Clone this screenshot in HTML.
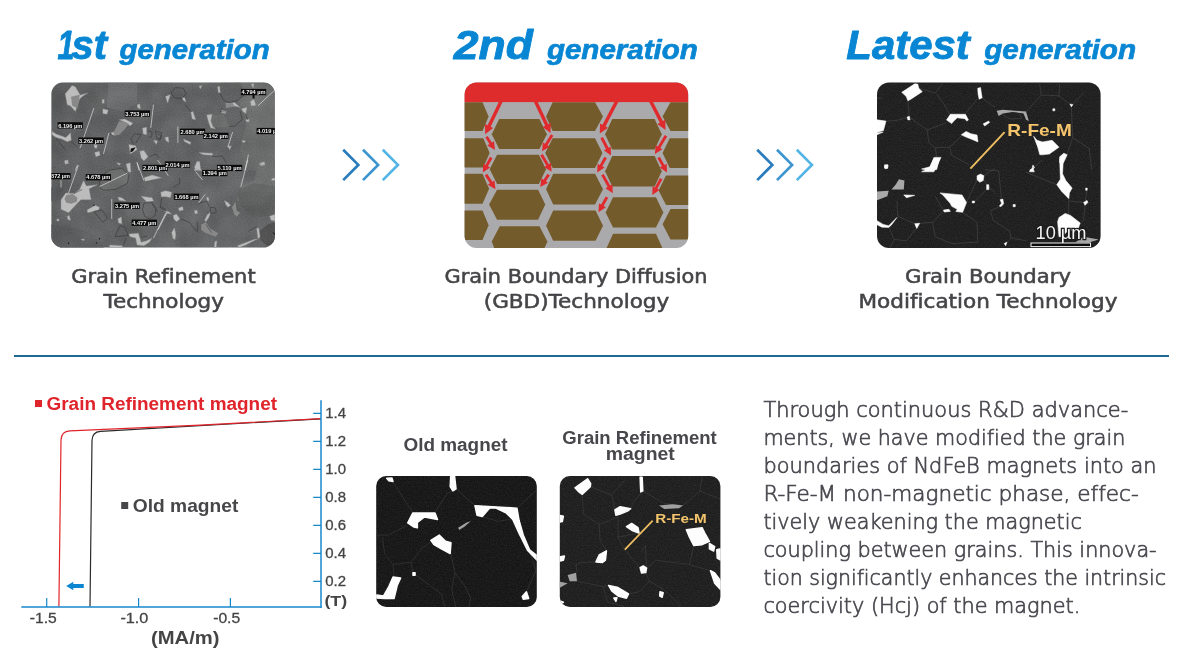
<!DOCTYPE html>
<html lang="en">
<head>
<meta charset="utf-8">
<title>Grain boundary technology generations</title>
<style>
html,body{margin:0;padding:0;background:#fff;}
body{width:1187px;height:657px;overflow:hidden;position:relative;font-family:"Liberation Sans","DejaVu Sans",sans-serif;}
svg{position:absolute;left:0;top:0;display:block}
.h{font-family:"Liberation Sans",sans-serif;font-weight:700;font-style:italic;fill:#0886d3}
.cap{font-family:"DejaVu Sans","Liberation Sans",sans-serif;font-size:19.6px;fill:#454548;stroke:#454548;stroke-width:.55px;text-anchor:middle;font-variant-ligatures:none}
.p{font-family:"DejaVu Sans","Liberation Sans",sans-serif;font-weight:200;font-size:20.4px;fill:#47474e;stroke:#47474e;stroke-width:.65px;font-variant-ligatures:none}
.cb{font-family:"Liberation Sans",sans-serif;font-weight:700}
.ax{font-family:"Liberation Sans",sans-serif;font-size:15.4px;fill:#444;stroke:#444;stroke-width:.3px}
</style>
</head>
<body>
<svg width="1187" height="657" viewBox="0 0 1187 657">
<defs>
<clipPath id="c1"><rect x="51.4" y="82.6" width="223.4" height="165" rx="11.4"/></clipPath>
<linearGradient id="g1" x1="0" y1="0" x2="1" y2="0.6"><stop offset="0" stop-color="#565758"/><stop offset=".5" stop-color="#5d5e5f"/><stop offset="1" stop-color="#606162"/></linearGradient>
<clipPath id="c2"><rect x="464.6" y="82.5" width="223.6" height="165.5" rx="12"/></clipPath>
<clipPath id="c3"><rect x="877" y="82.5" width="223.6" height="165.5" rx="12"/></clipPath>
<clipPath id="c4"><rect x="376.2" y="476" width="160.6" height="131" rx="10"/></clipPath>
<clipPath id="c5"><rect x="559.8" y="476" width="160.6" height="131" rx="10"/></clipPath>
<filter id="nzd" x="0" y="0" width="100%" height="100%" color-interpolation-filters="sRGB"><feTurbulence type="fractalNoise" baseFrequency="0.75" numOctaves="2" seed="7"/><feColorMatrix type="matrix" values="0 0 0 0 1  0 0 0 0 1  0 0 0 0 1  0.13 0 0 0 -0.035"/></filter>
<filter id="nzg" x="0" y="0" width="100%" height="100%" color-interpolation-filters="sRGB"><feTurbulence type="fractalNoise" baseFrequency="0.045" numOctaves="2" seed="11"/><feColorMatrix type="matrix" values="1.6 0 0 0 -0.3  1.6 0 0 0 -0.3  1.6 0 0 0 -0.3  0 0 0 0 0.07"/></filter>
<filter id="nzf" x="0" y="0" width="100%" height="100%" color-interpolation-filters="sRGB"><feTurbulence type="fractalNoise" baseFrequency="0.8" numOctaves="1" seed="5"/><feColorMatrix type="matrix" values="1 0 0 0 0  1 0 0 0 0  1 0 0 0 0  0 0 0 0 0.10"/></filter>
</defs>
<g class="h" stroke="#0886d3" stroke-linejoin="round">
<text y="58.8" font-size="41.5" stroke-width=".9"><tspan x="57.6" textLength="17" lengthAdjust="spacingAndGlyphs">1</tspan><tspan x="71.6" textLength="35.5" lengthAdjust="spacingAndGlyphs">st</tspan></text>
<text x="119.6" y="58.8" font-size="27.5" stroke-width=".7" textLength="150" lengthAdjust="spacingAndGlyphs">generation</text>
<text x="453.8" y="58.8" font-size="41.5" stroke-width=".9" textLength="79" lengthAdjust="spacingAndGlyphs">2nd</text>
<text x="546.9" y="58.8" font-size="27.5" stroke-width=".7" textLength="151" lengthAdjust="spacingAndGlyphs">generation</text>
<text x="846.3" y="58.8" font-size="41.5" stroke-width=".9" textLength="123.5" lengthAdjust="spacingAndGlyphs">Latest</text>
<text x="984.2" y="58.8" font-size="27.5" stroke-width=".7" textLength="152" lengthAdjust="spacingAndGlyphs">generation</text>
</g>
<g fill="none" stroke-width="2.7" stroke-linecap="butt" stroke-linejoin="miter"><polyline points="343.2,149.7 358.3,164.9 343.2,180.1" stroke="#2a7cbc"/><polyline points="363,149.7 378.1,164.9 363,180.1" stroke="#3c95cf"/><polyline points="382.8,149.7 397.9,164.9 382.8,180.1" stroke="#53b5e5"/></g>
<g fill="none" stroke-width="2.7" stroke-linecap="butt" stroke-linejoin="miter"><polyline points="757.2,149.7 772.3,164.9 757.2,180.1" stroke="#2a7cbc"/><polyline points="777,149.7 792.1,164.9 777,180.1" stroke="#3c95cf"/><polyline points="796.8,149.7 811.9,164.9 796.8,180.1" stroke="#53b5e5"/></g>
<g clip-path="url(#c1)">
<rect x="50" y="81" width="226" height="168" fill="url(#g1)"/>
<g transform="translate(48 80) scale(0.1370)">
<polygon points="290,95 420,130 400,210 330,210 300,150" fill="#595a5a"/>
<polygon points="440,20 650,20 650,170 560,230 430,200" fill="#68696a"/>
</g>
<g transform="translate(158 80) scale(0.1370)">
<polygon points="560,20 850,20 850,660 640,660 600,500 650,300 600,200" fill="#686969"/>
<polygon points="450,95 480,150 520,165 580,150 640,100 600,20 460,20" fill="#5a5b5c"/>
<polygon points="360,260 480,250 520,340 400,350" fill="#6b6c6c"/>
</g>
<g transform="translate(48 160) scale(0.1370)">
<polygon points="375,190 385,120 450,75 540,60 590,110 580,170 490,215 400,220" fill="#696a6a"/>
<polygon points="20,200 120,210 100,290 20,300" fill="#57585a"/>
<polygon points="540,380 700,440 690,560 590,550 540,460" fill="#5a5b5b"/>
<polygon points="20,470 300,520 420,650 20,650" fill="#58595a"/>
</g>
<g transform="translate(158 160) scale(0.1370)">
<polygon points="740,520 800,470 860,450 860,600 800,625 750,590" fill="#454545"/>
<polygon points="600,195 700,150 740,0 860,0 860,300 700,330 570,300" fill="#6a6b6b"/>
<polygon points="575,215 700,170 860,190 860,400 700,420 600,330" fill="#5a5b5b"/>
</g>
<rect x="50" y="81" width="226" height="168" filter="url(#nzg)"/>
<rect x="50" y="81" width="226" height="168" filter="url(#nzf)"/>
<g transform="translate(48 80) scale(0.1370)">
<g fill="#bcbcbc" stroke="#8e8e8e" stroke-width="3" stroke-linejoin="round">
<polygon points="125,100 160,60 175,40 200,50 235,110 290,95 250,120 230,140 200,230 165,190 140,180"/>
<polygon points="400,210 440,220 430,250 400,245"/>
<polygon points="395,145 410,140 410,170 395,170"/>
<polygon points="520,290 560,285 620,315 600,335 565,310"/>
<polygon points="650,180 670,175 675,210 655,205"/>
<polygon points="690,350 720,345 720,400 695,395"/>
<polygon points="30,375 60,395 130,420 165,385 170,440 140,450 100,430 60,420 30,400"/>
<polygon points="335,470 360,475 355,500 340,495"/>
<polygon points="340,530 375,520 380,550 350,560"/>
<polygon points="590,470 640,480 650,510 600,540"/>
<polygon points="670,520 700,515 730,560 700,590 680,570"/>
<polygon points="770,440 800,445 790,470"/>
<polygon points="120,590 140,585 145,610 125,615"/>
<polygon points="460,385 480,380 490,405 470,400"/>
</g>
<g fill="#888">
<polygon points="478,385 520,300 565,310 590,320 560,360 520,400 490,405"/>
<polygon points="168,122 232,108 226,150 214,208 176,186"/>
</g>
<g fill="#111">
<polygon points="605,500 640,490 620,520 600,530"/>
</g>
<g fill="none" stroke="#2c2c2c" stroke-width="3.5" stroke-linejoin="round">
<polyline points="625,470 605,430 630,395 680,395 660,430 640,460"/>
<polyline points="785,375 830,385 825,425 795,430 785,375"/>
<polyline points="730,370 760,380 755,420 735,415"/>
<polyline points="60,425 110,490 130,515"/>
<polyline points="170,450 215,490"/>
<polyline points="740,560 790,540 810,570"/>
</g>
<g fill="none" stroke="#ececec" stroke-width="4.5">
<polyline points="335,205 235,495"/>
<polyline points="770,180 750,350"/>
<polyline points="445,385 405,540"/>
<polyline points="215,620 200,660"/>
<polyline points="650,600 665,660"/>
</g>
</g>
<g transform="translate(158 80) scale(0.1370)">
<g fill="#bcbcbc" stroke="#8e8e8e" stroke-width="3" stroke-linejoin="round">
<polygon points="55,120 90,105 70,170"/>
<polygon points="175,125 195,130 205,160 185,150"/>
<polygon points="300,45 320,40 310,65"/>
<polygon points="435,50 450,45 455,95 440,90"/>
<polygon points="240,235 255,230 275,290 250,285"/>
<polygon points="355,255 395,250 385,300 400,340 420,355 385,350 370,310"/>
<polygon points="495,170 560,165 600,200 560,190 500,200"/>
<polygon points="610,210 650,200 640,245 620,230"/>
<polygon points="675,155 700,140 715,185 680,190"/>
<polygon points="680,30 700,25 695,60"/>
<polygon points="640,290 665,285 665,305 645,305"/>
<polygon points="50,420 75,415 80,455 60,445"/>
<polygon points="510,485 535,480 525,510"/>
<polygon points="610,440 640,445 625,460"/>
<polygon points="300,530 400,535 395,550 330,545"/>
<polygon points="270,640 300,590 310,660 265,660"/>
<polygon points="460,220 500,230 495,245 465,240"/>
<polygon points="185,430 240,455 235,470 195,450"/>
<polygon points="740,610 775,600 780,620 750,625"/>
</g>
<g fill="#888">
<polygon points="495,170 545,168 560,195 500,200"/>
</g>
<g fill="#111">
<polygon points="690,105 705,105 705,135 690,135"/>
</g>
<g fill="none" stroke="#2c2c2c" stroke-width="3.5" stroke-linejoin="round">
<polyline points="95,95 125,55 185,60 205,100 175,135 120,130 95,95"/>
<polyline points="450,95 480,150 520,165 580,150 640,100"/>
<polyline points="470,200 455,230 500,235"/>
<polyline points="600,230 615,290 560,335 520,340"/>
<polyline points="0,395 20,405 15,440 0,435"/>
<polyline points="395,560 470,555 500,610"/>
<polyline points="640,250 655,290"/>
<polyline points="200,180 240,230"/>
</g>
<g fill="none" stroke="#ececec" stroke-width="4.5">
<polyline points="845,80 730,188"/>
<polyline points="145,340 145,460"/>
<polyline points="545,380 510,490"/>
<polyline points="660,545 635,660"/>
</g>
</g>
<g transform="translate(48 160) scale(0.1370)">
<g fill="#bcbcbc" stroke="#8e8e8e" stroke-width="3" stroke-linejoin="round">
<polygon points="95,290 130,240 190,245 230,215 260,150 280,190 360,180 300,210 315,290 240,290 210,320 150,385 95,360"/>
<polygon points="285,365 345,330 375,345 370,365 290,385"/>
<polygon points="570,30 600,20 605,90 585,85"/>
<polygon points="700,130 760,110 830,130 710,155"/>
<polygon points="510,270 540,275 570,300 520,295"/>
<polygon points="680,265 760,275 770,300 720,305 700,285"/>
<polygon points="830,235 880,230 880,270 835,265"/>
<polygon points="510,430 535,415 540,465 515,460"/>
<polygon points="590,540 660,535 680,600 720,590 760,570 740,600 700,625 650,620 640,570 600,560"/>
<polygon points="140,410 155,405 165,440 145,435"/>
<polygon points="125,5 145,0 150,30"/>
<polygon points="65,430 80,430 80,445 65,445"/>
<polygon points="500,20 530,25 520,40"/>
<polygon points="240,580 265,575 262,590"/>
<polygon points="450,620 540,625 545,640 450,640"/>
</g>
<g fill="#888">
<polygon points="120,285 135,255 180,248 215,275 210,305 170,320 135,312"/>
</g>
<g fill="#111">
<circle cx="150" cy="608" r="5"/><circle cx="355" cy="605" r="5"/><circle cx="375" cy="575" r="5"/><circle cx="335" cy="330" r="5"/></g>
<g fill="none" stroke="#2c2c2c" stroke-width="3.5" stroke-linejoin="round">
<polyline points="375,190 385,120 450,75 540,60 590,110 580,170 490,215 400,220 375,190"/>
<polyline points="690,360 700,315 760,310 790,350 780,410 740,430 705,410 690,360"/>
<polyline points="335,375 395,365 435,425 400,455 335,375"/>
<polyline points="490,560 525,480 560,490 585,550 490,560"/>
<polyline points="570,570 550,620"/>
<polyline points="680,565 725,555"/>
<polyline points="190,245 250,215"/>
<polyline points="830,280 820,340 860,360"/>
<polyline points="760,320 800,380"/>
</g>
<g fill="none" stroke="#ececec" stroke-width="4.5">
<polyline points="222,38 150,240"/>
<polyline points="580,95 375,195"/>
<polyline points="650,20 700,150"/>
<polyline points="465,285 465,430"/>
<polyline points="860,385 770,570"/>
<polyline points="95,145 95,200"/>
<polyline points="800,0 850,70"/>
</g>
</g>
<g transform="translate(158 160) scale(0.1370)">
<g fill="#bcbcbc" stroke="#8e8e8e" stroke-width="3" stroke-linejoin="round">
<polygon points="265,55 285,10 305,15 310,65 325,80 290,70"/>
<polygon points="20,235 55,225 100,235 90,275 55,265 25,270"/>
<polygon points="485,295 510,310 530,330 510,345 495,325"/>
<polygon points="340,440 360,400 385,380 370,420 350,450"/>
<polygon points="110,405 135,395 160,430 135,450 115,430"/>
<polygon points="150,350 180,340 185,365 155,372"/>
<polygon points="45,370 75,375 100,395 70,390"/>
<polygon points="100,530 120,495 130,540 125,580 110,575"/>
<polygon points="580,625 700,580 730,575 640,620 590,638"/>
<polygon points="720,500 735,495 745,560 730,575"/>
<polygon points="815,410 855,395 855,445 825,440"/>
<polygon points="830,135 855,130 855,150 830,150"/>
<polygon points="750,20 775,15 780,35 755,32"/>
<polygon points="415,595 430,590 425,640 410,640"/>
<polygon points="355,270 370,275 372,300 358,295"/>
<polygon points="265,370 285,365 290,390 270,392"/>
</g>
<g fill="#888">
<polygon points="540,345 565,305 575,370 600,385 575,415 555,395"/>
<polygon points="315,470 350,455 380,500 440,535 420,560 340,530 315,510"/>
</g>
<g fill="#111">
<polygon points="835,525 855,535 855,550"/>
</g>
<g fill="none" stroke="#2c2c2c" stroke-width="3.5" stroke-linejoin="round">
<polyline points="10,340 60,375"/>
<polyline points="165,430 230,455 270,510 290,520 285,450"/>
<polyline points="380,345 420,350 425,385 385,390 380,345"/>
<polyline points="290,320 355,300 375,340"/>
<polyline points="110,200 160,170 155,130"/>
<polyline points="350,470 390,530"/>
<polyline points="660,520 720,485"/>
</g>
<g fill="none" stroke="#ececec" stroke-width="4.5">
<polyline points="655,0 605,195"/>
<polyline points="275,85 325,145"/>
<polyline points="345,250 295,315"/>
<polyline points="45,70 75,115"/>
<polyline points="65,385 0,510"/>
</g>
</g>
<g font-family="'Liberation Sans',sans-serif" font-size="6.2" font-weight="700" fill="#f2f2f2">
<rect x="124.7" y="110.4" width="25.3" height="6.3" fill="#0b0b0b"/><text x="125.3" y="115.7" textLength="24.1" lengthAdjust="spacingAndGlyphs">3.753 µm</text>
<rect x="57.6" y="122.2" width="25.3" height="6.3" fill="#0b0b0b"/><text x="58.2" y="127.5" textLength="24.1" lengthAdjust="spacingAndGlyphs">6.196 µm</text>
<rect x="78.4" y="137.5" width="25.3" height="6.3" fill="#0b0b0b"/><text x="79" y="142.8" textLength="24.1" lengthAdjust="spacingAndGlyphs">3.262 µm</text>
<rect x="240.9" y="88.9" width="25.3" height="6.3" fill="#0b0b0b"/><text x="241.5" y="94.2" textLength="24.1" lengthAdjust="spacingAndGlyphs">4.794 µm</text>
<rect x="179.9" y="128.6" width="25.3" height="6.3" fill="#0b0b0b"/><text x="180.5" y="133.9" textLength="24.1" lengthAdjust="spacingAndGlyphs">2.680 µm</text>
<rect x="203.2" y="132.7" width="25.3" height="6.3" fill="#0b0b0b"/><text x="203.8" y="138" textLength="24.1" lengthAdjust="spacingAndGlyphs">2.142 µm</text>
<rect x="256.6" y="127.9" width="25.3" height="6.3" fill="#0b0b0b"/><text x="257.2" y="133.2" textLength="24.1" lengthAdjust="spacingAndGlyphs">4.019 µm</text>
<rect x="50.5" y="173" width="20.1" height="6.3" fill="#0b0b0b"/><text x="51.1" y="178.3" textLength="18.9" lengthAdjust="spacingAndGlyphs">872 µm</text>
<rect x="85.7" y="174.1" width="25.3" height="6.3" fill="#0b0b0b"/><text x="86.3" y="179.4" textLength="24.1" lengthAdjust="spacingAndGlyphs">4.678 µm</text>
<rect x="142.5" y="164.8" width="25.3" height="6.3" fill="#0b0b0b"/><text x="143.1" y="170.1" textLength="24.1" lengthAdjust="spacingAndGlyphs">2.801 µm</text>
<rect x="114.4" y="202.5" width="25.3" height="6.3" fill="#0b0b0b"/><text x="115" y="207.8" textLength="24.1" lengthAdjust="spacingAndGlyphs">3.275 µm</text>
<rect x="131.6" y="219.6" width="25.3" height="6.3" fill="#0b0b0b"/><text x="132.2" y="224.9" textLength="24.1" lengthAdjust="spacingAndGlyphs">4.477 µm</text>
<rect x="164.8" y="161.4" width="25.3" height="6.3" fill="#0b0b0b"/><text x="165.4" y="166.7" textLength="24.1" lengthAdjust="spacingAndGlyphs">2.014 µm</text>
<rect x="216.9" y="164.8" width="25.3" height="6.3" fill="#0b0b0b"/><text x="217.5" y="170.1" textLength="24.1" lengthAdjust="spacingAndGlyphs">5.110 µm</text>
<rect x="202.1" y="169.9" width="25.3" height="6.3" fill="#0b0b0b"/><text x="202.7" y="175.2" textLength="24.1" lengthAdjust="spacingAndGlyphs">1.394 µm</text>
<rect x="173.8" y="193.6" width="25.3" height="6.3" fill="#0b0b0b"/><text x="174.4" y="198.9" textLength="24.1" lengthAdjust="spacingAndGlyphs">1.668 µm</text>
</g>
</g>
<g clip-path="url(#c2)"><g transform="translate(460 78) scale(0.2648)">
<rect x="0" y="0" width="880" height="660" fill="#aaaaac"/>
<g fill="#745b2b">
<polygon points="10,92 85,92 108,145 85,200 10,200"/>
<polygon points="10,228 88,228 112,283 88,338 10,338"/>
<polygon points="10,362 85,362 110,418 85,475 10,475"/>
<polygon points="10,500 85,500 108,556 85,612 10,612"/>
<polygon points="120,212 148,155 300,155 328,212 300,268 148,268"/>
<polygon points="112,345 140,290 298,290 325,345 298,400 140,400"/>
<polygon points="110,478 140,422 295,422 322,478 295,535 140,535"/>
<polygon points="120,617 150,560 300,560 330,617 316,650 132,650"/>
<polygon points="325,145 350,92 510,92 540,145 510,200 350,200"/>
<polygon points="322,283 350,228 510,228 538,283 510,340 350,340"/>
<polygon points="325,420 352,362 510,362 540,420 510,478 352,478"/>
<polygon points="325,558 352,500 512,500 540,558 512,615 352,615"/>
<polygon points="548,212 575,155 735,155 762,212 735,270 575,270"/>
<polygon points="548,352 575,295 735,295 762,352 735,410 575,410"/>
<polygon points="550,508 578,450 740,450 768,508 740,565 578,565"/>
<polygon points="550,650 578,588 740,588 768,650"/>
<polygon points="765,145 795,92 870,92 870,200 795,200"/>
<polygon points="765,283 792,228 870,228 870,340 792,340"/>
<polygon points="750,425 778,368 870,368 870,480 778,480"/>
<polygon points="765,552 795,495 870,495 870,610 795,610"/>
</g>
<rect x="0" y="0" width="880" height="91" fill="#de2c2d"/>
<g fill="#e02b2e">
<polygon points="149.1,85.2 104,178.6 94.5,174 95,212 125.1,188.8 115.7,184.2 160.9,90.8"/>
<polygon points="279.1,90.8 321.5,180.1 312.1,184.6 342,208 342.8,170 333.3,174.5 290.9,85.2"/>
<polygon points="586.2,85 538,176.9 528.7,172 528,210 558.8,187.8 549.6,182.9 597.8,91"/>
<polygon points="714.2,91 754.6,168.8 745.3,173.6 776,196 775.4,158 766.1,162.8 725.8,85"/>
<polygon points="95.4,225 111.2,249.7 103.2,254.8 132,272 128.5,238.6 120.5,243.8 104.6,219"/>
<polygon points="113.2,297.3 95.9,328.1 87.6,323.5 86,357 113.8,338.2 105.5,333.5 122.8,302.7"/>
<polygon points="93.4,368 113,397.9 105,403.1 134,420 130.1,386.7 122.2,391.9 102.6,362"/>
<polygon points="343.3,212.1 321,248.5 312.9,243.6 310,277 338.5,259.3 330.4,254.3 352.7,217.9"/>
<polygon points="303.3,292.8 326,331 317.8,335.9 346,354 343.6,320.5 335.4,325.4 312.7,287.2"/>
<polygon points="330.5,361.9 315.3,384.1 307.5,378.8 303,412 332.3,395.6 324.4,390.3 339.5,368.1"/>
<polygon points="530.1,227.5 551.4,268.8 542.9,273.2 570,293 569.6,259.5 561.2,263.8 539.9,222.5"/>
<polygon points="545.2,297.3 527.9,328.1 519.6,323.5 518,357 545.8,338.2 537.5,333.5 554.8,302.7"/>
<polygon points="533.2,367.7 557.6,411.5 549.3,416.1 577,435 575.5,401.5 567.2,406.1 542.8,362.3"/>
<polygon points="550.2,447.3 532.9,478.1 524.6,473.5 523,507 550.8,488.2 542.5,483.5 559.8,452.7"/>
<polygon points="773.3,215.1 746.9,258.5 738.8,253.6 736,287 764.4,269.2 756.3,264.2 782.7,220.9"/>
<polygon points="745.2,302.7 762.5,333.5 754.2,338.2 782,357 780.4,323.5 772.1,328.1 754.8,297.3"/>
<polygon points="755.2,377.4 735.6,413.1 727.3,408.5 726,442 753.6,422.9 745.2,418.3 764.8,382.6"/>
</g>
</g></g>
<g clip-path="url(#c3)">
<rect x="876" y="81" width="226" height="168" fill="#1b1b1b"/>
<rect x="876" y="81" width="226" height="168" filter="url(#nzd)"/>
<g transform="translate(875 80) scale(0.1370)">
<g fill="none" stroke="#5a5a5a" stroke-width="3" stroke-linejoin="round">
<polyline points="240,150 250,270 380,365 520,312"/>
<polyline points="380,365 395,460 440,495 450,565"/>
<polyline points="450,100 500,170 545,250"/>
<polyline points="745,140 660,245"/>
<polyline points="545,490 640,400"/>
<polyline points="440,495 545,490 560,550 690,620"/>
<polyline points="80,300 160,295 250,270"/>
<polyline points="320,60 440,95 490,30"/>
<polyline points="780,130 876,200"/>
<polyline points="15,130 45,135"/>
</g>
<g fill="#a8a8a8">
</g>
<g fill="#fdfdfd" stroke="#fdfdfd" stroke-width="4" stroke-linejoin="round">
<polygon points="195,90 290,28 312,30 320,60 345,85 262,140 240,152 228,120"/>
<polygon points="750,60 770,55 782,130 760,140 752,100"/>
<polygon points="522,292 550,250 660,250 682,292 670,300 655,282 600,276 575,300 560,318"/>
<polygon points="630,400 665,375 700,392 745,402 752,452 700,430 660,415"/>
<polygon points="790,320 830,300 836,310 800,336"/>
<polygon points="10,290 80,300 62,368 10,385"/>
<polygon points="10,388 60,380 10,402"/>
<polygon points="430,565 482,565 445,640 430,670 340,670 400,640"/>
<polygon points="235,270 250,265 256,290 240,292"/>
<polygon points="70,625 95,622 92,645 72,648"/>
</g>
</g>
<g transform="translate(985 80) scale(0.1370)">
<g fill="none" stroke="#5a5a5a" stroke-width="3" stroke-linejoin="round">
<polyline points="300,232 410,110 400,30"/>
<polyline points="410,110 540,115 630,185 720,95"/>
<polyline points="540,115 545,30"/>
<polyline points="630,185 640,420 600,540"/>
<polyline points="120,250 180,285 270,280 250,245"/>
<polyline points="640,420 760,500 780,657"/>
</g>
<g fill="#a8a8a8">
<polygon points="85,225 130,218 300,230 296,246 260,240 200,234 130,245 100,262"/>
<polygon points="280,240 300,232 320,300 300,290"/>
</g>
<g fill="#fdfdfd" stroke="#fdfdfd" stroke-width="4" stroke-linejoin="round">
<polygon points="355,410 380,440 420,452 490,440 540,490 470,540 420,546 400,545 385,490"/>
<polygon points="545,560 575,535 600,545 580,590 560,622 545,600"/>
<polygon points="620,175 642,180 630,196"/>
<polygon points="495,210 510,210 510,225 495,225"/>
<polygon points="350,620 362,640 340,660"/>
</g>
</g>
<g transform="translate(875 160) scale(0.1370)">
<g fill="none" stroke="#5a5a5a" stroke-width="3" stroke-linejoin="round">
<polyline points="160,300 165,410 290,465 420,455 500,370"/>
<polyline points="440,265 500,370"/>
<polyline points="100,490 140,580 110,640"/>
<polyline points="140,580 230,590 300,500"/>
<polyline points="420,455 440,560 560,610 750,600"/>
<polyline points="640,382 745,455 750,600"/>
<polyline points="668,310 745,145"/>
<polyline points="795,115 876,60"/>
<polyline points="726,306 830,200 795,150"/>
<polyline points="830,200 876,235"/>
</g>
<g fill="#a8a8a8">
<polygon points="150,180 175,140 215,150 210,215 120,215"/>
<polygon points="10,230 100,225 90,265 10,295"/>
</g>
<g fill="#fdfdfd" stroke="#fdfdfd" stroke-width="4" stroke-linejoin="round">
<polygon points="430,-10 472,-10 450,70 400,76 340,66 400,50"/>
<polygon points="70,35 95,35 90,60 70,56"/>
<polygon points="210,255 290,258 230,276"/>
<polygon points="475,240 635,255 668,310 640,382 590,376 600,360 560,338 548,315 495,255"/>
<polygon points="500,365 540,360 550,375 505,380"/>
<polygon points="745,115 770,103 795,115 790,150 765,162 745,145"/>
<polygon points="710,300 726,300 726,313 710,313"/>
<polygon points="10,440 60,470 100,480 160,420 122,472 100,492 50,490 10,470"/>
<polygon points="290,465 326,462 305,500"/>
</g>
</g>
<g transform="translate(985 160) scale(0.1370)">
<g fill="none" stroke="#5a5a5a" stroke-width="3" stroke-linejoin="round">
<polyline points="0,70 100,80 120,290"/>
<polyline points="120,335 40,370 60,440 180,520 190,570 150,610"/>
<polyline points="190,570 300,590"/>
<polyline points="612,282 610,400"/>
<polyline points="612,300 730,310 745,220"/>
<polyline points="730,330 720,440 695,460"/>
<polyline points="350,60 420,0"/>
<polyline points="300,90 524,180"/>
</g>
<g fill="#a8a8a8">
<polygon points="660,600 720,560 830,580 760,602"/>
</g>
<g fill="#fdfdfd" stroke="#fdfdfd" stroke-width="4" stroke-linejoin="round">
<polygon points="545,-10 572,-10 566,100 590,150 636,205 616,240 612,282 560,230 524,180 550,140"/>
<polygon points="330,70 350,60 360,86 325,86"/>
<polygon points="735,205 746,205 746,221 735,221"/>
<polygon points="720,310 745,295 751,310 730,331"/>
<polygon points="540,420 585,390 625,405 695,460 680,500 600,522 560,560 540,560 530,450"/>
<polygon points="110,290 130,285 136,320 116,341 105,336 121,315"/>
<polygon points="205,325 221,325 221,341 205,341"/>
<polygon points="140,610 160,600 151,626"/>
<polygon points="12,180 28,180 28,216 12,216"/>
</g>
</g>
<path d="M1004.6 132.2 L970.4 168.6" stroke="#efc062" stroke-width="1.9" fill="none"/>
<text x="1007.3" y="136" font-family="'Liberation Sans',sans-serif" font-weight="700" font-size="17" fill="#f4c56c" textLength="64.5" lengthAdjust="spacingAndGlyphs">R-Fe-M</text>
<text x="1035.5" y="238.8" font-family="'Liberation Sans',sans-serif" font-size="18" fill="#f4f4f4" stroke="#1a1a1a" stroke-width="2.4" paint-order="stroke" textLength="51" lengthAdjust="spacingAndGlyphs">10 µm</text>
<rect x="1031" y="243" width="59.5" height="3.6" fill="#0a0a0a" stroke="#f2f2f2" stroke-width="1"/>
</g>
<g class="cap">
<text x="163.4" y="282.7" textLength="184.5" lengthAdjust="spacingAndGlyphs">Grain Refinement</text>
<text x="163.7" y="307.7" textLength="120.5" lengthAdjust="spacingAndGlyphs">Technology</text>
<text x="576" y="282.7" textLength="263" lengthAdjust="spacingAndGlyphs">Grain Boundary Diffusion</text>
<text x="576.5" y="307.7" textLength="185.5" lengthAdjust="spacingAndGlyphs">(GBD)Technology</text>
<text x="988" y="282.7" textLength="166" lengthAdjust="spacingAndGlyphs">Grain Boundary</text>
<text x="988" y="307.7" textLength="259" lengthAdjust="spacingAndGlyphs">Modification Technology</text>
</g>
<rect x="14" y="355" width="1155" height="2" fill="#1f6a93"/>
<g id="chart">
<rect x="35" y="400" width="7" height="7" fill="#e0242c"/>
<text class="cb" x="46.5" y="409.9" font-size="18.7" fill="#e0242c" textLength="230.5" lengthAdjust="spacingAndGlyphs">Grain Refinement magnet</text>
<rect x="121.2" y="502" width="7" height="7" fill="#47474a"/>
<text class="cb" x="132.8" y="512.4" font-size="18.2" fill="#47474a" textLength="105.5" lengthAdjust="spacingAndGlyphs">Old magnet</text>
<path d="M90 606.5 L92 440.5 Q92.2 432 100.5 431.4 L321 418.8" fill="none" stroke="#2a2a2a" stroke-width="1.2"/>
<path d="M58.9 606.5 L61 440 Q61.2 431.2 70 430.8 L200 425.2 L321 418.6" fill="none" stroke="#e0242c" stroke-width="1.2"/>
<g stroke="#1787cc" stroke-width="1.5" fill="none">
<path d="M21.3 607.1 H321.8"/>
<path d="M321 400.2 V607.8"/>
<path d="M313.2 413.4 H321 M313.2 441.4 H321 M313.2 469.4 H321 M313.2 497.4 H321 M313.2 525.4 H321 M313.2 553.4 H321 M313.2 581.4 H321" stroke-width="1.2"/>
<path d="M46.7 598 V607 M138.6 598 V607 M230.4 598 V607" stroke-width="1.2"/>
</g>
<path d="M66.2 586 L73.3 581.8 V584.1 H83.8 V588 H73.3 V590.3 Z" fill="#0c86d1"/>
<g class="ax">
<text x="325.3" y="418.0" textLength="20.8" lengthAdjust="spacingAndGlyphs">1.4</text>
<text x="325.3" y="446.0" textLength="20.8" lengthAdjust="spacingAndGlyphs">1.2</text>
<text x="325.3" y="474.0" textLength="20.8" lengthAdjust="spacingAndGlyphs">1.0</text>
<text x="325.3" y="502.0" textLength="20.8" lengthAdjust="spacingAndGlyphs">0.8</text>
<text x="325.3" y="530.0" textLength="20.8" lengthAdjust="spacingAndGlyphs">0.6</text>
<text x="325.3" y="558.0" textLength="20.8" lengthAdjust="spacingAndGlyphs">0.4</text>
<text x="325.3" y="586.0" textLength="20.8" lengthAdjust="spacingAndGlyphs">0.2</text>
<text x="29.8" y="622.9" textLength="27" lengthAdjust="spacingAndGlyphs">-1.5</text>
<text x="120.4" y="622.9" textLength="28" lengthAdjust="spacingAndGlyphs">-1.0</text>
<text x="213.2" y="622.9" textLength="27" lengthAdjust="spacingAndGlyphs">-0.5</text>
</g>
<text class="cb" x="324.4" y="605.9" font-size="15.5" fill="#444" textLength="22.8" lengthAdjust="spacingAndGlyphs">(T)</text>
<text class="cb" x="151" y="644" font-size="17.5" fill="#444" textLength="68.5" lengthAdjust="spacingAndGlyphs">(MA/m)</text>
</g>
<g class="cb" font-size="18" fill="#47474c" text-anchor="middle">
<text x="455.5" y="451.2" textLength="104" lengthAdjust="spacingAndGlyphs">Old magnet</text>
<text x="639.5" y="444.3" textLength="154.5" lengthAdjust="spacingAndGlyphs">Grain Refinement</text>
<text x="640.3" y="460.2" textLength="69" lengthAdjust="spacingAndGlyphs">magnet</text>
</g>
<g clip-path="url(#c4)">
<rect x="375" y="475" width="163" height="133" fill="#131313"/>
<rect x="375" y="475" width="163" height="133" filter="url(#nzd)"/>
<g transform="translate(372 472) scale(0.2101)">
<g fill="none" stroke="#555" stroke-width="2.2" stroke-linejoin="round" opacity=".8">
<polyline points="100,50 180,170 194,195"/>
<polyline points="15,300 80,300 165,255"/>
<polyline points="50,310 60,390 100,440 105,500"/>
<polyline points="185,430 240,360 280,335"/>
<polyline points="100,440 185,430 195,480 330,580 350,650"/>
<polyline points="375,385 395,480 380,560 400,650"/>
<polyline points="395,480 440,540 470,600 460,650"/>
<polyline points="300,190 360,100 385,90"/>
<polyline points="400,80 490,160"/>
<polyline points="690,172 790,80"/>
<polyline points="525,212 600,235 660,225"/>
<polyline points="750,372 780,470 735,570"/>
</g>
<g fill="#a0a0a0">
<polygon points="410,265 450,240 470,235 440,260 415,276"/>
</g>
<g fill="#fdfdfd" stroke="#fdfdfd" stroke-width="7" stroke-linejoin="round">
<polygon points="375,10 392,10 400,80 385,90 372,70"/>
<polygon points="70,30 95,28 100,45 80,42"/>
<polygon points="170,242 194,195 300,195 312,226 250,214 216,240 216,266 200,262"/>
<polygon points="280,325 320,300 350,330 376,336 372,388 330,366 295,346"/>
<polygon points="490,160 690,172 700,230 720,300 750,370 790,402 790,424 740,372 700,292 670,226 640,196 590,172 560,172 525,212 500,206"/>
<polygon points="22,585 55,590 80,545 100,500 136,505 120,540 105,602 60,602 15,600"/>
<polygon points="195,480 205,480 205,492 195,492"/>
<polygon points="715,592 735,570 746,602 720,606"/>
</g>
<g fill="#131313">
</g>
</g>
</g>
<g clip-path="url(#c5)">
<rect x="558" y="475" width="164" height="133" fill="#1b1b1b"/>
<rect x="558" y="475" width="164" height="133" filter="url(#nzd)"/>
<g transform="translate(555 472) scale(0.2101)">
<g fill="none" stroke="#555" stroke-width="2.2" stroke-linejoin="round" opacity=".8">
<polyline points="130,106 135,200 210,250 300,215"/>
<polyline points="210,250 215,330 245,375"/>
<polyline points="170,70 270,110 285,180"/>
<polyline points="270,110 330,40"/>
<polyline points="418,90 370,150 360,175"/>
<polyline points="418,90 520,150 610,160 690,90 700,20"/>
<polyline points="690,90 790,130"/>
<polyline points="300,215 300,310 400,290"/>
<polyline points="300,310 330,370 405,455"/>
<polyline points="436,458 480,420 640,440 660,350"/>
<polyline points="432,479 450,520 400,570 350,580"/>
<polyline points="450,520 520,560 600,640"/>
<polyline points="640,440 740,470"/>
<polyline points="100,440 130,430 195,428"/>
<polyline points="100,440 105,480"/>
<polyline points="105,520 230,545 255,540"/>
<polyline points="230,545 250,620 330,640"/>
<polyline points="410,380 430,350 436,458"/>
</g>
<g fill="#a0a0a0">
<polygon points="495,160 560,154 610,160 590,172 520,176"/>
<polygon points="60,490 100,480 105,520 70,520"/>
<polygon points="15,520 60,530 15,556"/>
</g>
<g fill="#fdfdfd" stroke="#fdfdfd" stroke-width="7" stroke-linejoin="round">
<polygon points="95,75 155,32 170,55 168,70 130,106 115,96"/>
<polygon points="405,25 415,25 418,90 408,95"/>
<polygon points="285,180 310,165 360,175 345,186 310,200 290,206"/>
<polygon points="340,260 365,245 395,265 400,290 370,280"/>
<polygon points="625,275 700,265 715,295 735,330 700,346 660,350 640,310"/>
<polygon points="735,340 760,355 755,376 735,366"/>
<polygon points="15,205 40,210 35,236 15,240"/>
<polygon points="210,395 245,375 240,420 225,431 195,428"/>
<polygon points="405,455 420,447 436,458 432,479 412,481"/>
<polygon points="255,540 300,550 350,580 340,601 300,590 270,566"/>
<polygon points="740,470 760,480 790,520 790,562 760,530"/>
<polygon points="770,370 790,365 790,420 772,410"/>
<polygon points="500,570 515,575 510,596 498,590"/>
<polygon points="280,600 295,598 290,616"/>
<polygon points="15,610 40,620 15,632"/>
<polygon points="15,405 45,400 40,420 15,426"/>
</g>
<g fill="#1b1b1b">
</g>
</g>
<path d="M652.7 520.7 L624.8 549.7" stroke="#efc062" stroke-width="1.7" fill="none"/>
<text x="655.2" y="523.1" font-family="'Liberation Sans',sans-serif" font-weight="700" font-size="13.4" fill="#f4c56c" textLength="51.6" lengthAdjust="spacingAndGlyphs">R-Fe-M</text>
</g>
<g class="p">
<text x="763.4" y="416.9" textLength="364.8" lengthAdjust="spacingAndGlyphs">Through continuous R&amp;D advance-</text>
<text x="763.4" y="444.8" textLength="362" lengthAdjust="spacingAndGlyphs">ments, we have modified the grain</text>
<text x="763.4" y="472.8" textLength="393.2" lengthAdjust="spacingAndGlyphs">boundaries of NdFeB magnets into an</text>
<text x="763.4" y="500.8" textLength="375.3" lengthAdjust="spacingAndGlyphs">R-Fe-M non-magnetic phase, effec-</text>
<text x="763.4" y="528.7" textLength="318.5" lengthAdjust="spacingAndGlyphs">tively weakening the magnetic</text>
<text x="763.4" y="556.6" textLength="393.2" lengthAdjust="spacingAndGlyphs">coupling between grains. This innova-</text>
<text x="763.4" y="584.6" textLength="402.6" lengthAdjust="spacingAndGlyphs">tion significantly enhances the intrinsic</text>
<text x="763.4" y="612.5" textLength="317" lengthAdjust="spacingAndGlyphs">coercivity (Hcj) of the magnet.</text>
</g>
</svg>
</body>
</html>
